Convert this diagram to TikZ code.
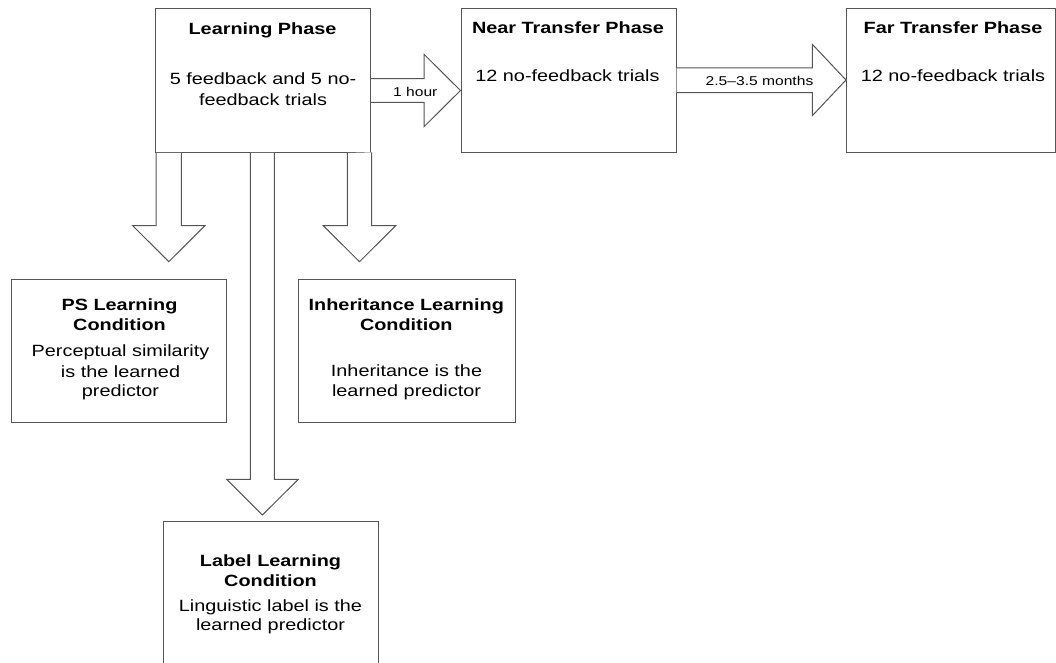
\documentclass[tikz,border=0pt]{standalone}
\usepackage{fontspec}
\setmainfont{Liberation Sans}[FakeStretch=1.22]
\begin{document}
\begin{tikzpicture}[x=0.75pt,y=-0.75pt,
  linec/.style={draw={rgb,255:red,85;green,85;blue,85}},
  box/.style={linec, fill=white, line width=0.75pt, inner sep=0pt, anchor=north west, rectangle},
  blk/.style={linec, fill=white, line width=0.75pt, line join=miter},
  ttl/.style={font=\fontsize{12.2}{14}\selectfont\bfseries, anchor=base, inner sep=0pt},
  txt/.style={font=\fontsize{12.2}{14}\selectfont, anchor=base, inner sep=0pt},
  lbl/.style={font=\fontsize{9.6}{11}\selectfont, anchor=base, inner sep=0pt}]
\useasboundingbox (0,0) rectangle (1056,663);

% boxes
\node[box, minimum width=161.6pt, minimum height=108pt] (learn) at (154.7,8) {};
\node[box, minimum width=161.3pt, minimum height=108pt] (near)  at (460.5,8) {};
\node[box, minimum width=156.4pt, minimum height=108pt] (far)   at (846,8) {};
\node[box, minimum width=161.5pt, minimum height=107.5pt] (ps)   at (11,279) {};
\node[box, minimum width=162.2pt, minimum height=107.5pt] (inh)  at (298.4,279) {};
\node[box, minimum width=161.7pt, minimum height=112pt] (lab)   at (162.7,520.7) {};

% horizontal block arrows
\draw[blk] (learn.east |- 0,78.7) -- (424,78.7) -- (424,54.3) -- (near.west |- 0,90.5)
  -- (424,126.7) -- (424,102.3) -- (learn.east |- 0,102.3);
\draw[blk] (near.east |- 0,67.8) -- (812.3,67.8) -- (812.3,44.3) -- (far.west |- 0,80)
  -- (812.3,115.7) -- (812.3,92.6) -- (near.east |- 0,92.6);

% vertical block arrows
\draw[blk] (learn.south -| 156,0) -- (156,225.7) -- (132.7,225.7) -- (168.8,261.7)
  -- (205,225.7) -- (181.3,225.7) -- (learn.south -| 181.3,0);
\draw[blk] (learn.south -| 347.3,0) -- (347.3,225.7) -- (323.3,225.7) -- (359.5,261.7)
  -- (395.7,225.7) -- (371.7,225.7) -- (371.7,152.3);
\draw[blk] (learn.south -| 250.3,0) -- (250.3,479.3) -- (226.7,479.3) -- (262.4,515)
  -- (298.3,479.3) -- (274.3,479.3) -- (learn.south -| 274.3,0);

% arrow labels
\node[lbl] (l1) at (415.3,96.7) {1 hour};
\node[lbl] (l2) at (759.5,86) {2.5–3.5 months};

% learning phase
\node[ttl] (t1) at (262.5,34.3) {Learning Phase};
\node[txt] (b1a) at (263,84.5) {5 feedback and 5 no-};
\node[txt] (b1b) at (263,105.7) {feedback trials};
% near
\node[ttl] (t2) at (568,33.5) {Near Transfer Phase};
\node[txt] (b2) at (567.5,81.7) {12 no-feedback trials};
% far
\node[ttl] (t3) at (953,34) {Far Transfer Phase};
\node[txt] (b3) at (953,81.7) {12 no-feedback trials};
% PS
\node[ttl] (t4a) at (119.5,310) {PS Learning};
\node[ttl] (t4b) at (119.5,330.7) {Condition};
\node[txt] (b4a) at (120.5,356.7) {Perceptual similarity};
\node[txt] (b4b) at (120.5,377.3) {is the learned};
\node[txt] (b4c) at (120.5,396.7) {predictor};
% inheritance
\node[ttl] (t5a) at (406.3,310) {Inheritance Learning};
\node[ttl] (t5b) at (406.3,330.7) {Condition};
\node[txt] (b5a) at (406.5,376.7) {Inheritance is the};
\node[txt] (b5b) at (406.5,396.7) {learned predictor};
% label
\node[ttl] (t6a) at (270.5,566.7) {Label Learning};
\node[ttl] (t6b) at (270.5,586.7) {Condition};
\node[txt] (b6a) at (270.5,611.7) {Linguistic label is the};
\node[txt] (b6b) at (270.5,630.7) {learned predictor};
\end{tikzpicture}
\end{document}
